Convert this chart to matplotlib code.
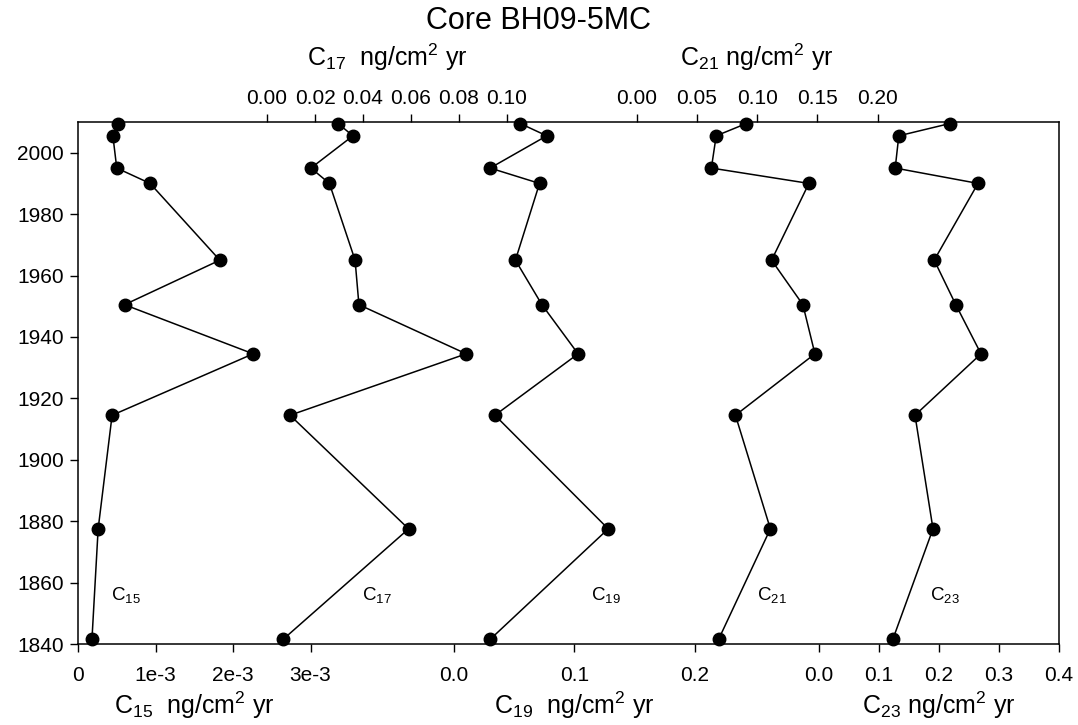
import matplotlib
matplotlib.use("Agg")
import matplotlib.pyplot as plt
import matplotlib.transforms as mtransforms

plt.rcParams['font.family'] = ['Liberation Sans', 'DejaVu Sans']
plt.rcParams['mathtext.default'] = 'regular'

# sample ages (same for every compound)
years = [2009.5, 2005.5, 1995, 1990, 1965, 1950.5, 1934.5, 1914.5, 1877.5, 1841.5]

# fluxes, ng/cm2 yr
c15 = [0.52e-3, 0.45e-3, 0.50e-3, 0.93e-3, 1.83e-3, 0.60e-3, 2.26e-3, 0.44e-3, 0.26e-3, 0.18e-3]
c17 = [0.0296, 0.0358, 0.0183, 0.026, 0.0367, 0.0383, 0.083, 0.0096, 0.059, 0.0067]
c19 = [0.055, 0.077, 0.030, 0.071, 0.051, 0.073, 0.103, 0.034, 0.128, 0.030]
c21 = [0.091, 0.066, 0.062, 0.143, 0.112, 0.138, 0.148, 0.082, 0.111, 0.068]
c23 = [0.218, 0.133, 0.127, 0.265, 0.192, 0.228, 0.270, 0.160, 0.190, 0.123]

year_ticks = [1840, 1860, 1880, 1900, 1920, 1940, 1960, 1980, 2000]

# each compound: values, side, x-limits of the frame, ticks, tick labels, label text, inner tag
series = [
    (c15, 'bottom', (0, 0.012658), [0, 1e-3, 2e-3, 3e-3], ['0', '1e-3', '2e-3', '3e-3'],
     'C$_{15}$  ng/cm$^{2}$ yr', 'C$_{15}$', 0.43e-3),
    (c17, 'top', (-0.07875, 0.33), [0.0, 0.02, 0.04, 0.06, 0.08, 0.10],
     ['0.00', '0.02', '0.04', '0.06', '0.08', '0.10'],
     'C$_{17}$  ng/cm$^{2}$ yr', 'C$_{17}$', 0.0396),
    (c19, 'bottom', (-0.3120, 0.5021), [0.0, 0.1, 0.2], ['0.0', '0.1', '0.2'],
     'C$_{19}$  ng/cm$^{2}$ yr', 'C$_{19}$', 0.1137),
    (c21, 'top', (-0.4640, 0.3507), [0.0, 0.05, 0.10, 0.15, 0.20],
     ['0.00', '0.05', '0.10', '0.15', '0.20'],
     'C$_{21}$ ng/cm$^{2}$ yr', 'C$_{21}$', 0.100),
    (c23, 'bottom', (-1.235, 0.4), [0.0, 0.1, 0.2, 0.3, 0.4], ['0.0', '0.1', '0.2', '0.3', '0.4'],
     'C$_{23}$ ng/cm$^{2}$ yr', 'C$_{23}$', 0.185),
]

fig = plt.figure(figsize=(10.78, 7.25), dpi=100)
ax = fig.add_axes([78 / 1078, 81 / 725, 981 / 1078, 522 / 725])
ax.set_ylim(1840, 2010)
ax.set_yticks(year_ticks)
ax.tick_params(axis='y', direction='out', length=6, width=1, labelsize=15, pad=4)
for s in ax.spines.values():
    s.set_linewidth(1.1)

for i, (vals, side, xl, ticks, tlabels, label, tag, tagx) in enumerate(series):
    a = ax if i == 0 else ax.twiny()
    a.set_xlim(*xl)
    a.set_ylim(1840, 2010)
    if i > 0:
        a.patch.set_visible(False)
        for s in a.spines.values():
            s.set_visible(False)
    if side == 'bottom':
        a.xaxis.tick_bottom()
        pad = 10
        ly = -0.134
    else:
        a.xaxis.tick_top()
        pad = 4
        ly = 1.107
    a.set_xticks(ticks)
    a.set_xticklabels(tlabels)
    a.tick_params(axis='x', direction='out', length=6, width=1, labelsize=15, pad=pad)
    a.plot(vals, years, color='black', lw=1.1, marker='o', ms=9,
           markerfacecolor='black', markeredgecolor='black', clip_on=False, zorder=3)
    trans = mtransforms.blended_transform_factory(a.transData, a.transAxes)
    a.text((ticks[0] + ticks[-1]) / 2, ly, label, transform=trans,
           ha='center', va='baseline', fontsize=18)
    a.text(tagx, 1854.3, tag, ha='left', va='baseline', fontsize=13.5)

fig.text(539 / 1078, 1 - 29 / 725, 'Core BH09-5MC', ha='center', va='baseline', fontsize=22)

fig.savefig('out.png', dpi=100)
